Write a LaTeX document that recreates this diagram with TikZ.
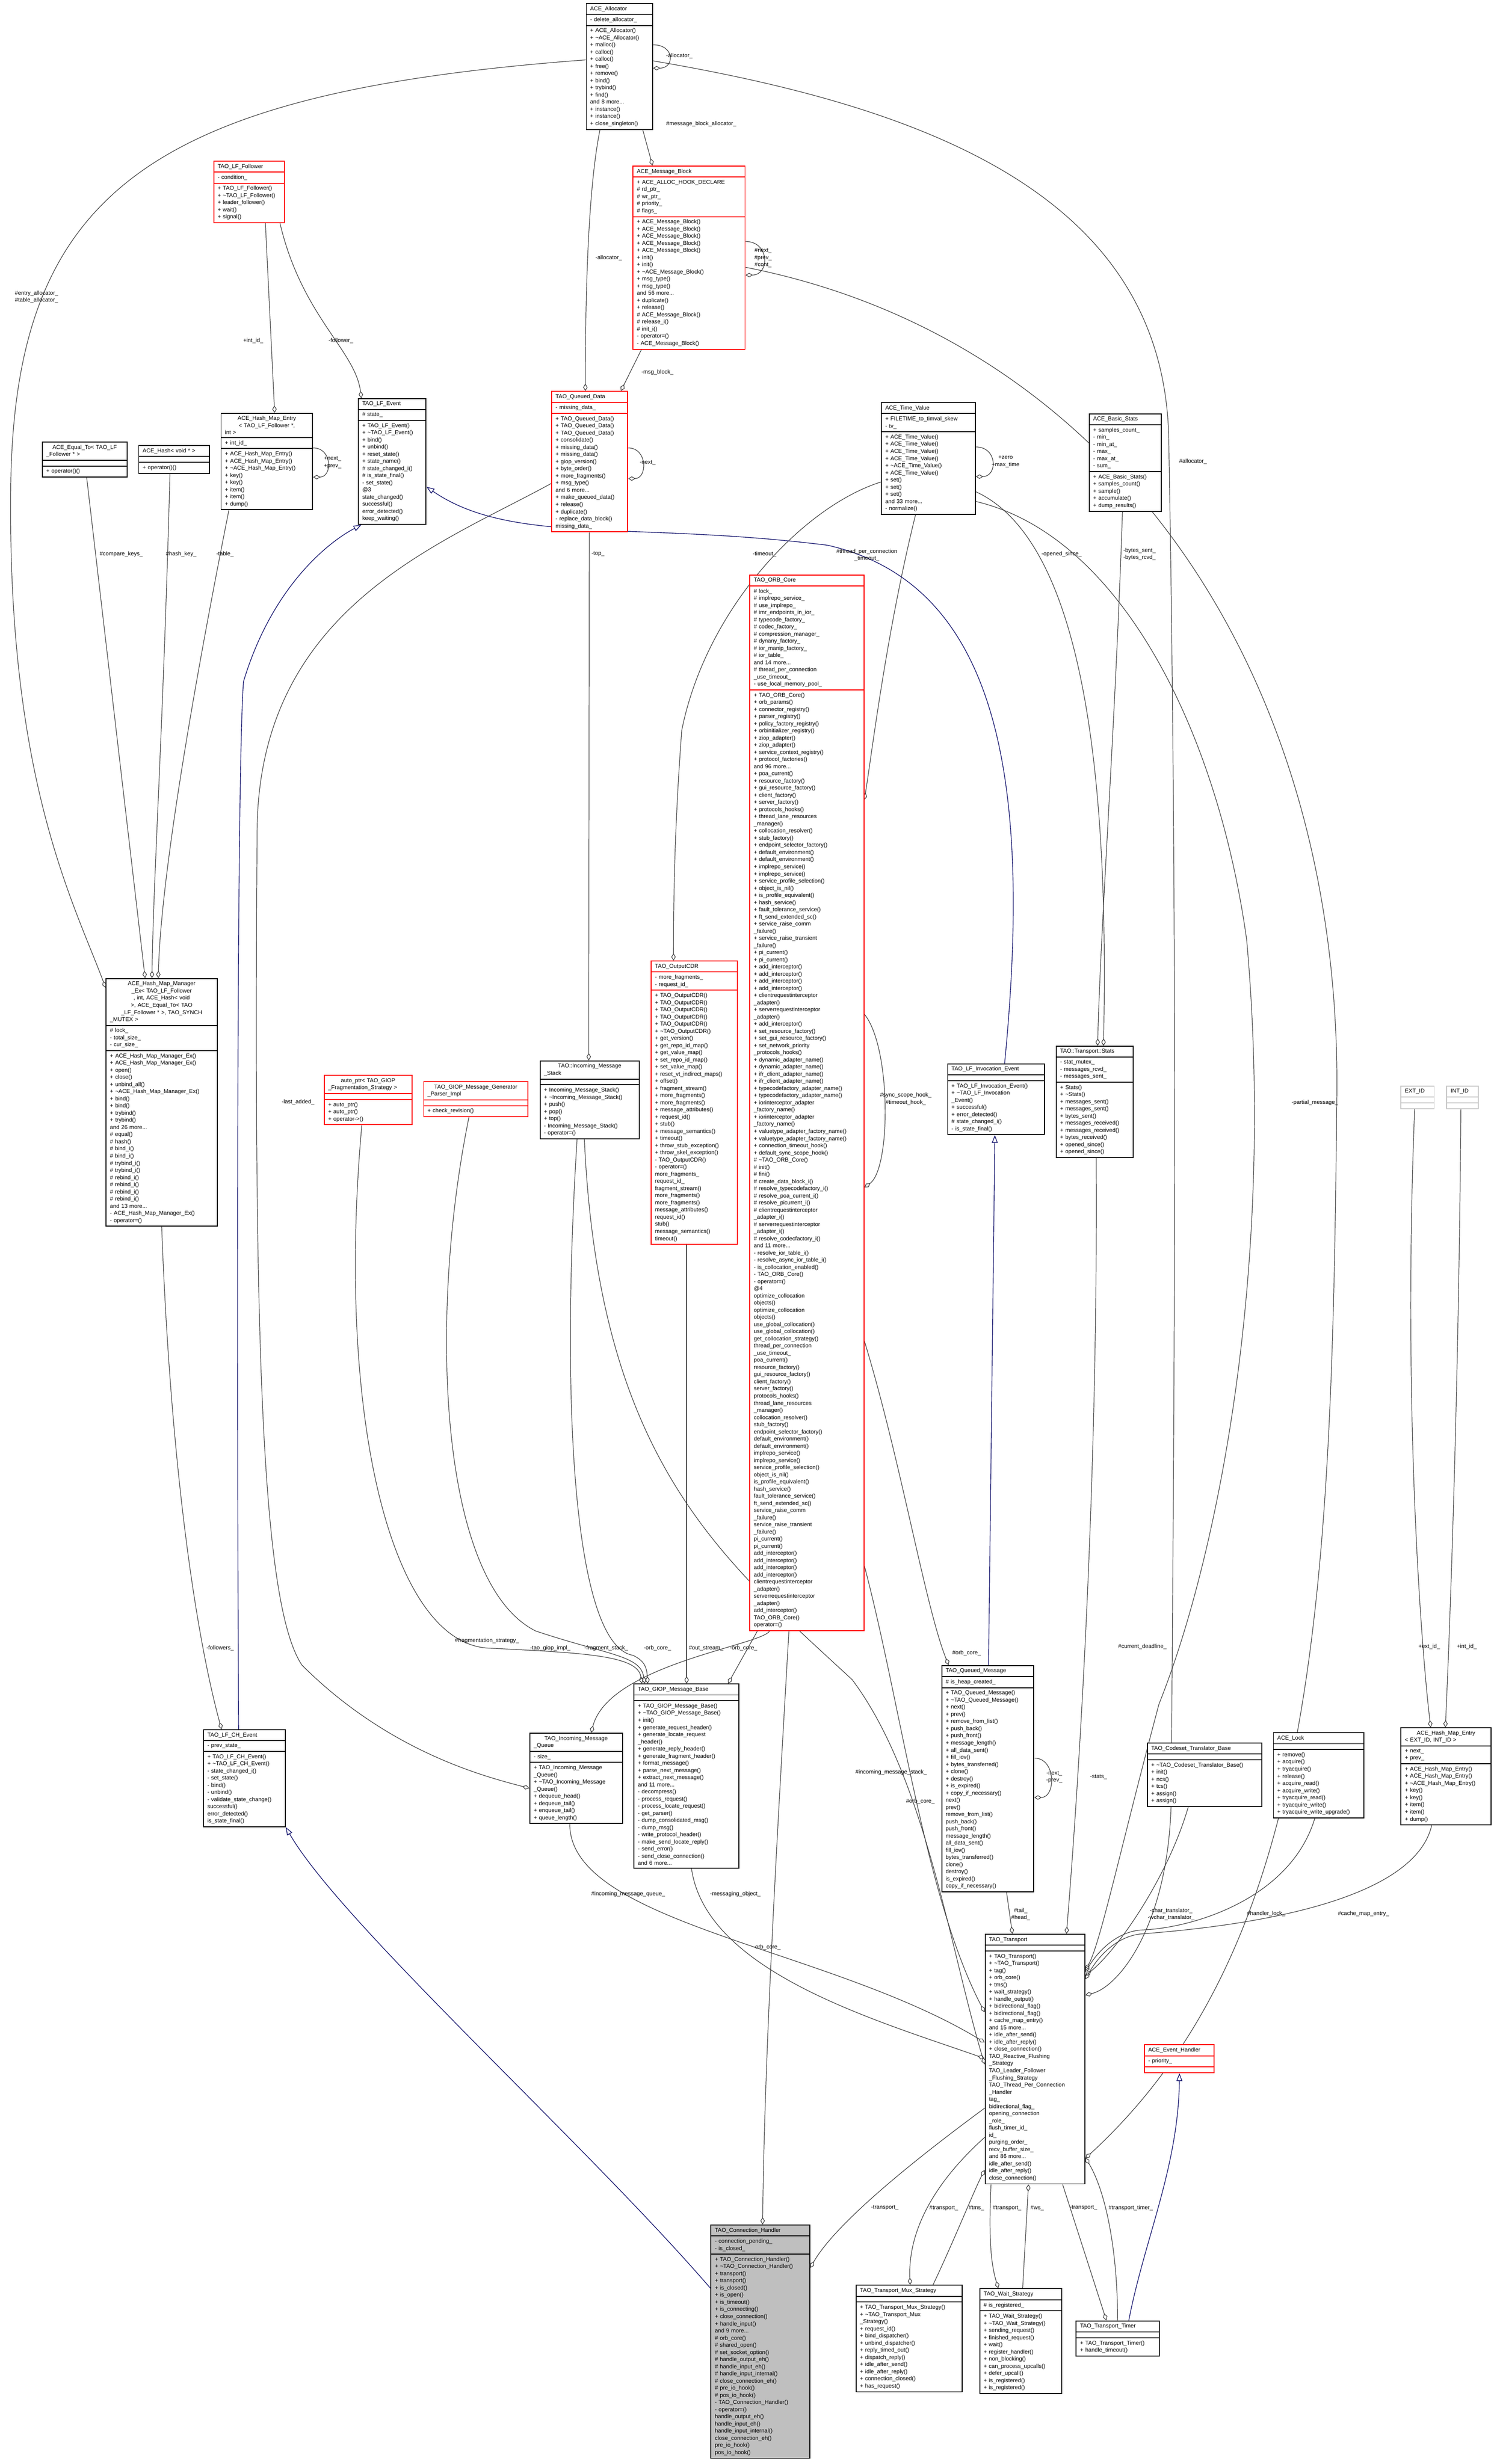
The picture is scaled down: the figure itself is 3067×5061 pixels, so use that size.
\documentclass[tikz,border=0pt]{standalone}
\usepackage{fontspec}
\setmainfont{Liberation Sans}
\usetikzlibrary{shapes.multipart,arrows.meta,calc,backgrounds}
\definecolor{redb}{RGB}{255,0,0}
\definecolor{edgec}{RGB}{64,64,64}
\definecolor{inhc}{RGB}{25,25,112}
\definecolor{grayb}{RGB}{191,191,191}
\newcommand{\clsfont}{\fontsize{3.3pt}{4.18pt}\selectfont}
\tikzset{
 cls/.style={draw, rectangle split, rectangle split parts=3, anchor=north west,
   inner xsep=0.8mm, inner ysep=0.5mm, font=\clsfont, align=left,
   rectangle split empty part height=1mm, line width=0.55pt, fill=white},
 redcls/.style={cls, draw=redb},
 lbl/.style={font=\clsfont, align=center, inner sep=0pt},
 comp/.style={draw=edgec, line width=0.35pt, -{Diamond[open,length=1.5mm,width=0.9mm]}},
 inh/.style={draw=inhc, line width=0.4pt, -{Triangle[open,length=1.6mm,width=1.2mm]}}
}
\begin{document}
\catcode`\_=12
\catcode`\~=12
\begin{tikzpicture}[x=0.1mm,y=-0.1mm]
\useasboundingbox (0,0) rectangle (3067,5061);
% ---------------- classes
\node[cls,text width=12.0mm] (alloc) at (1203,6) {\centering ACE_Allocator
\nodepart{two}- delete_allocator_
\nodepart{three}+ ACE_Allocator()\\+ ~ACE_Allocator()\\+ malloc()\\+ calloc()\\+ calloc()\\+ free()\\+ remove()\\+ bind()\\+ trybind()\\+ find()\\and 8 more...\\+ instance()\\+ instance()\\+ close_singleton()};

\node[redcls,text width=21.4mm] (mb) at (1299,340) {\centering ACE_Message_Block
\nodepart{two}+ ACE_ALLOC_HOOK_DECLARE\\\# rd_ptr_\\\# wr_ptr_\\\# priority_\\\# flags_
\nodepart{three}+ ACE_Message_Block()\\+ ACE_Message_Block()\\+ ACE_Message_Block()\\+ ACE_Message_Block()\\+ ACE_Message_Block()\\+ init()\\+ init()\\+ ~ACE_Message_Block()\\+ msg_type()\\+ msg_type()\\and 56 more...\\+ duplicate()\\+ release()\\\# ACE_Message_Block()\\\# release_i()\\\# init_i()\\- operator=()\\- ACE_Message_Block()};

\node[redcls,text width=12.9mm] (lff) at (438,330) {\centering TAO_LF_Follower
\nodepart{two}- condition_
\nodepart{three}+ TAO_LF_Follower()\\+ ~TAO_LF_Follower()\\+ leader_follower()\\+ wait()\\+ signal()};

\node[redcls,text width=14.0mm] (qd) at (1132,803) {\centering TAO_Queued_Data
\nodepart{two}- missing_data_
\nodepart{three}+ TAO_Queued_Data()\\+ TAO_Queued_Data()\\+ TAO_Queued_Data()\\+ consolidate()\\+ missing_data()\\+ missing_data()\\+ giop_version()\\+ byte_order()\\+ more_fragments()\\+ msg_type()\\and 6 more...\\+ make_queued_data()\\+ release()\\+ duplicate()\\- replace_data_block()\\* missing_data_};

\node[cls,text width=15.8mm] (eq) at (86,907) {\centering ACE_Equal_To< TAO_LF\\_Follower * >
\nodepart{two}
\nodepart{three}+ operator()()};

\node[cls,text width=12.9mm] (hv) at (284,914) {\centering ACE_Hash< void * >
\nodepart{two}
\nodepart{three}+ operator()()};

\node[cls,text width=17.2mm] (hme) at (453,848) {\centering ACE_Hash_Map_Entry\\< TAO_LF_Follower *,\\ int >
\nodepart{two}+ int_id_
\nodepart{three}+ ACE_Hash_Map_Entry()\\+ ACE_Hash_Map_Entry()\\+ ~ACE_Hash_Map_Entry()\\+ key()\\+ key()\\+ item()\\+ item()\\+ dump()};

\node[cls,text width=12.3mm] (lfe) at (735,818) {\centering TAO_LF_Event
\nodepart{two}\# state_
\nodepart{three}+ TAO_LF_Event()\\+ ~TAO_LF_Event()\\+ bind()\\+ unbind()\\+ reset_state()\\+ state_name()\\\# state_changed_i()\\\# is_state_final()\\- set_state()\\* @3\\* state_changed()\\* successful()\\* error_detected()\\* keep_waiting()};

\node[cls,text width=17.7mm] (tv) at (1809,826) {\centering ACE_Time_Value
\nodepart{two}+ FILETIME_to_timval_skew\\- tv_
\nodepart{three}+ ACE_Time_Value()\\+ ACE_Time_Value()\\+ ACE_Time_Value()\\+ ACE_Time_Value()\\+ ~ACE_Time_Value()\\+ ACE_Time_Value()\\+ set()\\+ set()\\+ set()\\and 33 more...\\- normalize()};

\node[cls,text width=13.2mm] (bs) at (2236,849) {\centering ACE_Basic_Stats
\nodepart{two}+ samples_count_\\- min_\\- min_at_\\- max_\\- max_at_\\- sum_
\nodepart{three}+ ACE_Basic_Stats()\\+ samples_count()\\+ sample()\\+ accumulate()\\+ dump_results()};

\node[redcls,text width=21.8mm] (orb) at (1539,1180) {\centering TAO_ORB_Core
\nodepart{two}\# lock_\\\# implrepo_service_\\\# use_implrepo_\\\# imr_endpoints_in_ior_\\\# typecode_factory_\\\# codec_factory_\\\# compression_manager_\\\# dynany_factory_\\\# ior_manip_factory_\\\# ior_table_\\and 14 more...\\\# thread_per_connection\\ _use_timeout_\\- use_local_memory_pool_
\nodepart{three}+ TAO_ORB_Core()\\+ orb_params()\\+ connector_registry()\\+ parser_registry()\\+ policy_factory_registry()\\+ orbinitializer_registry()\\+ ziop_adapter()\\+ ziop_adapter()\\+ service_context_registry()\\+ protocol_factories()\\and 96 more...\\+ poa_current()\\+ resource_factory()\\+ gui_resource_factory()\\+ client_factory()\\+ server_factory()\\+ protocols_hooks()\\+ thread_lane_resources\\ _manager()\\+ collocation_resolver()\\+ stub_factory()\\+ endpoint_selector_factory()\\+ default_environment()\\+ default_environment()\\+ implrepo_service()\\+ implrepo_service()\\+ service_profile_selection()\\+ object_is_nil()\\+ is_profile_equivalent()\\+ hash_service()\\+ fault_tolerance_service()\\+ ft_send_extended_sc()\\+ service_raise_comm\\ _failure()\\+ service_raise_transient\\ _failure()\\+ pi_current()\\+ pi_current()\\+ add_interceptor()\\+ add_interceptor()\\+ add_interceptor()\\+ add_interceptor()\\+ clientrequestinterceptor\\ _adapter()\\+ serverrequestinterceptor\\ _adapter()\\+ add_interceptor()\\+ set_resource_factory()\\+ set_gui_resource_factory()\\+ set_network_priority\\ _protocols_hooks()\\+ dynamic_adapter_name()\\+ dynamic_adapter_name()\\+ ifr_client_adapter_name()\\+ ifr_client_adapter_name()\\+ typecodefactory_adapter_name()\\+ typecodefactory_adapter_name()\\+ iorinterceptor_adapter\\ _factory_name()\\+ iorinterceptor_adapter\\ _factory_name()\\+ valuetype_adapter_factory_name()\\+ valuetype_adapter_factory_name()\\+ connection_timeout_hook()\\+ default_sync_scope_hook()\\\# ~TAO_ORB_Core()\\\# init()\\\# fini()\\\# create_data_block_i()\\\# resolve_typecodefactory_i()\\\# resolve_poa_current_i()\\\# resolve_picurrent_i()\\\# clientrequestinterceptor\\ _adapter_i()\\\# serverrequestinterceptor\\ _adapter_i()\\\# resolve_codecfactory_i()\\and 11 more...\\- resolve_ior_table_i()\\- resolve_async_ior_table_i()\\- is_collocation_enabled()\\- TAO_ORB_Core()\\- operator=()\\* @4\\* optimize_collocation\\ objects()\\* optimize_collocation\\ objects()\\* use_global_collocation()\\* use_global_collocation()\\* get_collocation_strategy()\\* thread_per_connection\\ _use_timeout_\\* poa_current()\\* resource_factory()\\* gui_resource_factory()\\* client_factory()\\* server_factory()\\* protocols_hooks()\\* thread_lane_resources\\ _manager()\\* collocation_resolver()\\* stub_factory()\\* endpoint_selector_factory()\\* default_environment()\\* default_environment()\\* implrepo_service()\\* implrepo_service()\\* service_profile_selection()\\* object_is_nil()\\* is_profile_equivalent()\\* hash_service()\\* fault_tolerance_service()\\* ft_send_extended_sc()\\* service_raise_comm\\ _failure()\\* service_raise_transient\\ _failure()\\* pi_current()\\* pi_current()\\* add_interceptor()\\* add_interceptor()\\* add_interceptor()\\* add_interceptor()\\* clientrequestinterceptor\\ _adapter()\\* serverrequestinterceptor\\ _adapter()\\* add_interceptor()\\* TAO_ORB_Core()\\* operator=()};

\node[cls,text width=21.2mm] (hmm) at (217,2009) {\centering ACE_Hash_Map_Manager\\_Ex< TAO_LF_Follower\\ *, int, ACE_Hash< void\\ * >, ACE_Equal_To< TAO\\_LF_Follower * >, TAO_SYNCH\\_MUTEX >
\nodepart{two}\# lock_\\- total_size_\\- cur_size_
\nodepart{three}+ ACE_Hash_Map_Manager_Ex()\\+ ACE_Hash_Map_Manager_Ex()\\+ open()\\+ close()\\+ unbind_all()\\+ ~ACE_Hash_Map_Manager_Ex()\\+ bind()\\+ bind()\\+ trybind()\\+ trybind()\\and 26 more...\\\# equal()\\\# hash()\\\# bind_i()\\\# bind_i()\\\# trybind_i()\\\# trybind_i()\\\# rebind_i()\\\# rebind_i()\\\# rebind_i()\\\# rebind_i()\\and 13 more...\\- ACE_Hash_Map_Manager_Ex()\\- operator=()};

\node[redcls,text width=16.4mm] (ap) at (665,2208) {\centering auto_ptr< TAO_GIOP\\_Fragmentation_Strategy >
\nodepart{two}
\nodepart{three}+ auto_ptr()\\+ auto_ptr()\\+ operator->()};

\node[redcls,text width=19.8mm] (gpi) at (869,2221) {\centering TAO_GIOP_Message_Generator\\_Parser_Impl
\nodepart{two}
\nodepart{three}+ check_revision()};

\node[cls,text width=18.8mm] (ims) at (1108,2178) {\centering TAO::Incoming_Message\\_Stack
\nodepart{two}
\nodepart{three}+ Incoming_Message_Stack()\\+ ~Incoming_Message_Stack()\\+ push()\\+ pop()\\+ top()\\- Incoming_Message_Stack()\\- operator=()};

\node[redcls,text width=16.1mm] (cdr) at (1336,1973) {\centering TAO_OutputCDR
\nodepart{two}- more_fragments_\\- request_id_
\nodepart{three}+ TAO_OutputCDR()\\+ TAO_OutputCDR()\\+ TAO_OutputCDR()\\+ TAO_OutputCDR()\\+ TAO_OutputCDR()\\+ ~TAO_OutputCDR()\\+ get_version()\\+ get_repo_id_map()\\+ get_value_map()\\+ set_repo_id_map()\\+ set_value_map()\\+ reset_vt_indirect_maps()\\+ offset()\\+ fragment_stream()\\+ more_fragments()\\+ more_fragments()\\+ message_attributes()\\+ request_id()\\+ stub()\\+ message_semantics()\\+ timeout()\\+ throw_stub_exception()\\+ throw_skel_exception()\\- TAO_OutputCDR()\\- operator=()\\* more_fragments_\\* request_id_\\* fragment_stream()\\* more_fragments()\\* more_fragments()\\* message_attributes()\\* request_id()\\* stub()\\* message_semantics()\\* timeout()};

\node[cls,text width=18.3mm] (lie) at (1945,2184) {\centering TAO_LF_Invocation_Event
\nodepart{two}
\nodepart{three}+ TAO_LF_Invocation_Event()\\+ ~TAO_LF_Invocation\\_Event()\\+ successful()\\+ error_detected()\\\# state_changed_i()\\- is_state_final()};

\node[cls,text width=14.2mm] (st) at (2168,2148) {\centering TAO::Transport::Stats
\nodepart{two}- stat_mutex_\\- messages_rcvd_\\- messages_sent_
\nodepart{three}+ Stats()\\+ ~Stats()\\+ messages_sent()\\+ messages_sent()\\+ bytes_sent()\\+ messages_received()\\+ messages_received()\\+ bytes_received()\\+ opened_since()\\+ opened_since()};

\node[cls,draw=grayb,text width=5.2mm] (ext) at (2876,2230) {\centering EXT_ID
\nodepart{two}
\nodepart{three}};
\node[cls,draw=grayb,text width=4.9mm] (int) at (2970,2230) {\centering INT_ID
\nodepart{two}
\nodepart{three}};

\node[cls,text width=15.2mm] (lch) at (417,3552) {\centering TAO_LF_CH_Event
\nodepart{two}- prev_state_
\nodepart{three}+ TAO_LF_CH_Event()\\+ ~TAO_LF_CH_Event()\\- state_changed_i()\\- set_state()\\- bind()\\- unbind()\\- validate_state_change()\\* successful()\\* error_detected()\\* is_state_final()};

\node[cls,text width=17.4mm] (imq) at (1087,3559) {\centering TAO_Incoming_Message\\_Queue
\nodepart{two}- size_
\nodepart{three}+ TAO_Incoming_Message\\_Queue()\\+ ~TAO_Incoming_Message\\_Queue()\\+ dequeue_head()\\+ dequeue_tail()\\+ enqueue_tail()\\+ queue_length()};

\node[cls,text width=19.9mm] (gmb) at (1301,3458) {\centering TAO_GIOP_Message_Base
\nodepart{two}
\nodepart{three}+ TAO_GIOP_Message_Base()\\+ ~TAO_GIOP_Message_Base()\\+ init()\\+ generate_request_header()\\+ generate_locate_request\\_header()\\+ generate_reply_header()\\+ generate_fragment_header()\\+ format_message()\\+ parse_next_message()\\+ extract_next_message()\\and 11 more...\\- decompress()\\- process_request()\\- process_locate_request()\\- get_parser()\\- dump_consolidated_msg()\\- dump_msg()\\- write_protocol_header()\\- make_send_locate_reply()\\- send_error()\\- send_close_connection()\\and 6 more...};

\node[cls,text width=17.3mm] (qm) at (1933,3420) {\centering TAO_Queued_Message
\nodepart{two}\# is_heap_created_
\nodepart{three}+ TAO_Queued_Message()\\+ ~TAO_Queued_Message()\\+ next()\\+ prev()\\+ remove_from_list()\\+ push_back()\\+ push_front()\\+ message_length()\\+ all_data_sent()\\+ fill_iov()\\+ bytes_transferred()\\+ clone()\\+ destroy()\\+ is_expired()\\+ copy_if_necessary()\\* next()\\* prev()\\* remove_from_list()\\* push_back()\\* push_front()\\* message_length()\\* all_data_sent()\\* fill_iov()\\* bytes_transferred()\\* clone()\\* destroy()\\* is_expired()\\* copy_if_necessary()};

\node[cls,text width=21.9mm] (cst) at (2355,3579) {\centering TAO_Codeset_Translator_Base
\nodepart{two}
\nodepart{three}+ ~TAO_Codeset_Translator_Base()\\+ init()\\+ ncs()\\+ tcs()\\+ assign()\\+ assign()};

\node[cls,text width=17.0mm] (lock) at (2614,3558) {\centering ACE_Lock
\nodepart{two}
\nodepart{three}+ remove()\\+ acquire()\\+ tryacquire()\\+ release()\\+ acquire_read()\\+ acquire_write()\\+ tryacquire_read()\\+ tryacquire_write()\\+ tryacquire_write_upgrade()};

\node[cls,text width=16.9mm] (hmeb) at (2876,3548) {\centering ACE_Hash_Map_Entry\\< EXT_ID, INT_ID >
\nodepart{two}+ next_\\+ prev_
\nodepart{three}+ ACE_Hash_Map_Entry()\\+ ACE_Hash_Map_Entry()\\+ ~ACE_Hash_Map_Entry()\\+ key()\\+ key()\\+ item()\\+ item()\\+ dump()};

\node[cls,text width=18.9mm] (tr) at (2022,3972) {\centering TAO_Transport
\nodepart{two}
\nodepart{three}+ TAO_Transport()\\+ ~TAO_Transport()\\+ tag()\\+ orb_core()\\+ tms()\\+ wait_strategy()\\+ handle_output()\\+ bidirectional_flag()\\+ bidirectional_flag()\\+ cache_map_entry()\\and 15 more...\\+ idle_after_send()\\+ idle_after_reply()\\+ close_connection()\\* TAO_Reactive_Flushing\\_Strategy\\* TAO_Leader_Follower\\_Flushing_Strategy\\* TAO_Thread_Per_Connection\\_Handler\\* tag_\\* bidirectional_flag_\\* opening_connection\\_role_\\* flush_timer_id_\\* id_\\* purging_order_\\* recv_buffer_size_\\and 86 more...\\* idle_after_send()\\* idle_after_reply()\\* close_connection()};

\node[redcls,text width=12.7mm] (eh) at (2349,4199) {\centering ACE_Event_Handler
\nodepart{two}- priority_
\nodepart{three}};

\node[cls,fill=grayb,text width=18.7mm] (ch) at (1459,4569) {\centering TAO_Connection_Handler
\nodepart{two}- connection_pending_\\- is_closed_
\nodepart{three}+ TAO_Connection_Handler()\\+ ~TAO_Connection_Handler()\\+ transport()\\+ transport()\\+ is_closed()\\+ is_open()\\+ is_timeout()\\+ is_connecting()\\+ close_connection()\\+ handle_input()\\and 9 more...\\\# orb_core()\\\# shared_open()\\\# set_socket_option()\\\# handle_output_eh()\\\# handle_input_eh()\\\# handle_input_internal()\\\# close_connection_eh()\\\# pre_io_hook()\\\# pos_io_hook()\\- TAO_Connection_Handler()\\- operator=()\\* handle_output_eh()\\* handle_input_eh()\\* handle_input_internal()\\* close_connection_eh()\\* pre_io_hook()\\* pos_io_hook()};

\node[cls,text width=20.2mm] (mux) at (1757,4693) {\centering TAO_Transport_Mux_Strategy
\nodepart{two}
\nodepart{three}+ TAO_Transport_Mux_Strategy()\\+ ~TAO_Transport_Mux\\_Strategy()\\+ request_id()\\+ bind_dispatcher()\\+ unbind_dispatcher()\\+ reply_timed_out()\\+ dispatch_reply()\\+ idle_after_send()\\+ idle_after_reply()\\+ connection_closed()\\+ has_request()};

\node[cls,text width=15.2mm] (ws) at (2011,4700) {\centering TAO_Wait_Strategy
\nodepart{two}\# is_registered_
\nodepart{three}+ TAO_Wait_Strategy()\\+ ~TAO_Wait_Strategy()\\+ sending_request()\\+ finished_request()\\+ wait()\\+ register_handler()\\+ non_blocking()\\+ can_process_upcalls()\\+ defer_upcall()\\+ is_registered()\\+ is_registered()};

\node[cls,text width=15.5mm] (tt) at (2209,4766) {\centering TAO_Transport_Timer
\nodepart{two}
\nodepart{three}+ TAO_Transport_Timer()\\+ handle_timeout()};

% ---------------- connectors
\begin{scope}[on background layer]
% allocator
\draw[comp] (alloc.east |- 0,92) .. controls +(45,0) and +(45,0) .. (alloc.east |- 0,140);
\draw[comp] (alloc.south -| 1320,0) -- (mb.north -| 1340,0);
\draw[comp] (alloc.south -| 1232,0) .. controls (1205,400) and (1202,650) .. (qd.north -| 1202,0);
\draw[comp] (alloc.west |- 0,123) .. controls (300,190) and (30,400) .. (22,1000) .. controls (15,1600) and (150,1850) .. ($(hmm.north west)+(0,20)$);
\draw[comp] (alloc.east |- 0,125) .. controls (1900,220) and (2390,400) .. (2400,900) .. controls (2420,2000) and (2410,3000) .. (2405,3700) .. controls (2400,3950) and (2300,4080) .. (tr.east |- 0,4098);
% message block
\draw[comp] (mb.east |- 0,496) .. controls +(50,0) and +(50,0) .. (mb.east |- 0,565);
\draw[comp] (mb.south -| 1317,0) -- (qd.north -| 1275,0);
\draw[comp] (mb.east |- 0,549) .. controls (2300,700) and (2760,1400) .. (2745,2265) .. controls (2735,3300) and (2700,4000) .. (tr.east |- 0,4433);
% LF follower
\draw[comp] (lff.south -| 545,0) -- (hme.north -| 564,0);
\draw[comp] (lff.south -| 575,0) .. controls (620,650) and (730,720) .. (lfe.north -| 742,0);
\draw[comp] (hme.east |- 0,920) .. controls +(40,0) and +(40,0) .. (hme.east |- 0,980);
% hash map manager
\draw[comp] (eq.south -| 178,0) -- (hmm.north -| 298,0);
\draw[comp] (hv.south -| 349,0) .. controls (335,1500) and (315,1800) .. (hmm.north -| 312,0);
\draw[comp] (hme.south -| 470,0) .. controls (400,1400) and (330,1800) .. (hmm.north -| 325,0);
\draw[comp] (hmm.south -| 332,0) .. controls (350,3000) and (400,3350) .. (lch.north -| 455,0);
% queued data
\draw[comp] (qd.east |- 0,920) .. controls +(40,0) and +(40,0) .. (qd.east |- 0,983);
\draw[comp] (qd.south -| 1210,0) -- (ims.north -| 1209,0);
\draw[comp] (qd.west |- 0,993) .. controls (900,1120) and (535,1250) .. (528,1700) .. controls (520,2800) and (540,3300) .. (620,3420) .. controls (800,3600) and (1000,3650) .. (imq.west |- 0,3673);
% time value
\draw[comp] (tv.east |- 0,918) .. controls +(45,0) and +(45,0) .. (tv.east |- 0,979);
\draw[comp] (tv.south -| 1880,0) .. controls (1820,1300) and (1790,1550) .. (orb.east |- 0,1643);
\draw[comp] (tv.west |- 0,990) .. controls (1650,1040) and (1450,1250) .. (1400,1500) .. controls (1385,1700) and (1383,1850) .. (cdr.north -| 1383,0);
\draw[comp] (tv.east |- 0,1010) .. controls (2200,1100) and (2280,1500) .. (st.north -| 2266,0);
\draw[comp] (bs.south -| 2305,0) .. controls (2290,1500) and (2260,1900) .. (st.north -| 2254,0);
\draw[comp] (tv.east |- 0,1030) .. controls (2300,1100) and (2500,1500) .. (2560,1930) .. controls (2620,2600) and (2500,3200) .. (2380,3500) .. controls (2300,3800) and (2260,3990) .. (tr.east |- 0,4047);
% ORB core
\draw[comp] (orb.east |- 0,2083) .. controls (1830,2150) and (1830,2400) .. (orb.east |- 0,2439);
\draw[comp] (orb.east |- 0,2754) .. controls (1850,3000) and (1900,3300) .. (qm.north -| 1948,0);
\draw[comp] (orb.east |- 0,3216) .. controls (1850,3500) and (1900,3900) .. (tr.west |- 0,4133);
\draw[comp] (orb.south -| 1555,0) -- (gmb.north -| 1495,0);
\draw[comp] (orb.south -| 1580,0) .. controls (1560,3380) and (1250,3420) .. (imq.north -| 1214,0);
\draw[comp] (orb.south -| 1620,0) .. controls (1600,3700) and (1570,4200) .. (ch.north -| 1566,0);
% GIOP message base
\draw[comp] (cdr.south -| 1410,0) -- (gmb.north -| 1410,0);
\draw[comp] (ap.south -| 743,0) .. controls (690,2900) and (800,3370) .. (1000,3385) .. controls (1200,3395) and (1310,3400) .. (gmb.north -| 1318,0);
\draw[comp] (gpi.south -| 963,0) .. controls (880,2700) and (900,3250) .. (1100,3350) .. controls (1250,3400) and (1315,3400) .. (gmb.north -| 1324,0);
\draw[comp] (ims.south -| 1185,0) .. controls (1150,2900) and (1180,3380) .. (1300,3400) .. controls (1320,3410) and (1328,3420) .. (gmb.north -| 1330,0);
% transport
\draw[comp] (imq.south -| 1170,0) .. controls (1170,3950) and (1700,4000) .. (tr.west |- 0,4195);
\draw[comp] (gmb.south -| 1420,0) .. controls (1450,4050) and (1800,4150) .. (tr.west |- 0,4228);
\draw[comp] (ims.south -| 1200,0) .. controls (1230,3000) and (1480,3200) .. (1750,3450) .. controls (1900,3650) and (1950,4000) .. (tr.west |- 0,4240);
\draw[comp] (qm.east |- 0,3611) .. controls +(45,0) and +(45,0) .. (qm.east |- 0,3692);
\draw[comp] (qm.south -| 2067,0) -- (tr.north -| 2079,0);
\draw[comp] (st.south -| 2251,0) .. controls (2255,3000) and (2220,3600) .. (tr.north -| 2190,0);
\draw[comp] (cst.south -| 2440,0) .. controls (2400,3850) and (2300,4000) .. (tr.east |- 0,4058);
\draw[comp] (lock.south -| 2700,0) .. controls (2650,3900) and (2450,3960) .. (2346,3964) .. controls (2300,3966) and (2260,4000) .. (tr.east |- 0,4050);
\draw[comp] (hmeb.south -| 2940,0) .. controls (2900,3920) and (2500,3960) .. (2346,3972) .. controls (2300,3975) and (2260,4010) .. (tr.east |- 0,4065);
\draw[comp] (ext.south -| 2905,0) .. controls (2880,2900) and (2920,3400) .. (hmeb.north -| 2938,0);
\draw[comp] (int.south -| 3000,0) .. controls (2995,2900) and (2975,3400) .. (hmeb.north -| 2968,0);
% bottom
\draw[comp] (tr.west |- 0,4330) .. controls (1900,4420) and (1720,4560) .. (ch.east |- 0,4658);
\draw[comp] (tr.west |- 0,4390) .. controls (1900,4500) and (1865,4600) .. (mux.north -| 1869,0);
\draw[comp] (mux.north -| 1916,0) .. controls (1960,4600) and (2000,4500) .. (tr.west |- 0,4457);
\draw[comp] (tr.south -| 2035,0) .. controls (2030,4600) and (2035,4650) .. (ws.north -| 2050,0);
\draw[comp] (ws.north -| 2100,0) -- (tr.south -| 2112,0);
\draw[comp] (tr.south -| 2182,0) -- (tt.north -| 2272,0);
\draw[comp] (tt.north -| 2295,0) .. controls (2295,4620) and (2270,4500) .. (tr.east |- 0,4432);
% inheritance
\draw[inh] (lch.north -| 490,0) .. controls (487,3000) and (485,1600) .. (500,1400) .. controls (560,1200) and (680,1110) .. (lfe.south -| 742,0);
\draw[inh] (ch.west |- 0,4700) .. controls (1200,4400) and (700,3950) .. (lch.south east);
\draw[inh] (lie.north -| 2063,0) .. controls (2120,1600) and (2050,1200) .. (1700,1120) .. controls (1300,1070) and (1050,1120) .. (lfe.east |- 0,1000);
\draw[inh] (qm.north -| 2030,0) -- (lie.south -| 2043,0);
\draw[inh] (tt.north -| 2318,0) .. controls (2350,4600) and (2420,4450) .. (eh.south -| 2422,0);
\end{scope}
% ---------------- labels
\node[lbl] (l1) at (1395,115) {-allocator_};
\node[lbl] (l2) at (1440,255) {\#message_block_allocator_};
\node[lbl] (l3) at (1250,530) {-allocator_};
\node[lbl] (l4) at (75,610) {\#entry_allocator_\\\#table_allocator_};
\node[lbl] (l5) at (2450,948) {\#allocator_};
\node[lbl] (l6) at (1567,530) {\#next_\\\#prev_\\\#cont_};
\node[lbl] (l7) at (1350,765) {-msg_block_};
\node[lbl] (l8) at (2700,2265) {-partial_message_};
\node[lbl] (l9) at (520,700) {+int_id_};
\node[lbl] (l10) at (700,700) {-follower_};
\node[lbl] (l11) at (683,950) {+next_\\+prev_};
\node[lbl] (l12) at (249,1138) {\#compare_keys_};
\node[lbl] (l13) at (372,1138) {\#hash_key_};
\node[lbl] (l14) at (462,1138) {-table_};
\node[lbl] (l15) at (452,3385) {-followers_};
\node[lbl] (l16) at (1330,950) {-next_};
\node[lbl] (l17) at (1228,1138) {-top_};
\node[lbl] (l18) at (612,2264) {-last_added_};
\node[lbl] (l19) at (2065,948) {+zero\\+max_time};
\node[lbl] (l20) at (1780,1140) {\#thread_per_connection\\_timeout_};
\node[lbl] (l21) at (1570,1138) {-timeout_};
\node[lbl] (l22) at (2180,1138) {-opened_since_};
\node[lbl] (l23) at (2340,1138) {-bytes_sent_\\-bytes_rcvd_};
\node[lbl] (l24) at (1860,2257) {\#sync_scope_hook_\\\#timeout_hook_};
\node[lbl] (l25) at (1985,3395) {\#orb_core_};
\node[lbl] (l26) at (1890,3700) {\#orb_core_};
\node[lbl] (l27) at (1527,3385) {-orb_core_};
\node[lbl] (l28) at (1350,3385) {-orb_core_};
\node[lbl] (l29) at (1575,4000) {-orb_core_};
\node[lbl] (l30) at (1450,3385) {\#out_stream_};
\node[lbl] (l31) at (1000,3370) {\#fragmentation_strategy_};
\node[lbl] (l32) at (1130,3385) {-tao_giop_impl_};
\node[lbl] (l33) at (1245,3385) {-fragment_stack_};
\node[lbl] (l34) at (1290,3890) {\#incoming_message_queue_};
\node[lbl] (l35) at (1510,3890) {-messaging_object_};
\node[lbl] (l36) at (1830,3640) {\#incoming_message_stack_};
\node[lbl] (l37) at (2096,3932) {\#tail_\\\#head_};
\node[lbl] (l38) at (2165,3650) {-next_\\-prev_};
\node[lbl] (l39) at (2256,3650) {-stats_};
\node[lbl] (l40) at (2405,3932) {-char_translator_\\-wchar_translator_};
\node[lbl] (l41) at (2600,3931) {\#handler_lock_};
\node[lbl] (l42) at (2800,3931) {\#cache_map_entry_};
\node[lbl] (l43) at (2346,3382) {\#current_deadline_};
\node[lbl] (l44) at (2935,3382) {+ext_id_};
\node[lbl] (l45) at (3012,3382) {+int_id_};
\node[lbl] (l46) at (1817,4535) {-transport_};
\node[lbl] (l47) at (1938,4535) {\#transport_};
\node[lbl] (l48) at (2005,4535) {\#tms_};
\node[lbl] (l49) at (2068,4535) {\#transport_};
\node[lbl] (l50) at (2130,4535) {\#ws_};
\node[lbl] (l51) at (2225,4535) {-transport_};
\node[lbl] (l52) at (2322,4535) {\#transport_timer_};
\end{tikzpicture}
\end{document}
